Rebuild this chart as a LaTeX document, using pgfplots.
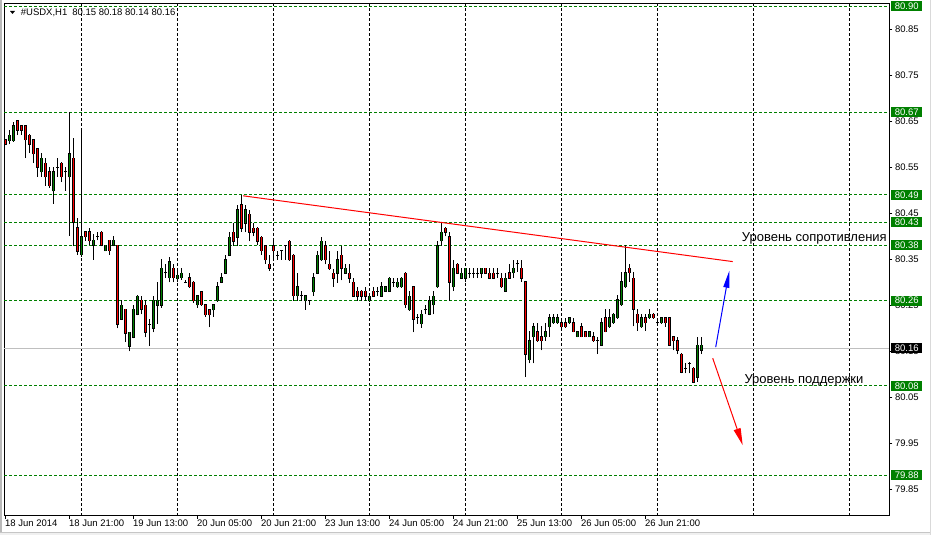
\documentclass[border=0pt]{standalone}
\usepackage{fontspec}
\setmainfont{Liberation Sans}
\usepackage{pgfplots}
\pgfplotsset{compat=1.18}
\usepackage{pgfplotstable}
\usetikzlibrary{arrows.meta}
\definecolor{mtgreen}{RGB}{0,128,0}
\definecolor{mtred}{RGB}{255,0,0}
\definecolor{mtblue}{RGB}{0,0,255}

\pgfplotstableread{
i o h l c
1 80.608 80.631 80.600 80.620
2 80.608 80.649 80.606 80.640
9 80.540 80.581 80.529 80.570
12 80.499 80.550 80.471 80.540
16 80.529 80.670 80.401 80.579
19 80.360 80.631 80.355 80.399
22 80.380 80.405 80.349 80.391
25 80.369 80.382 80.367 80.380
27 80.380 80.400 80.378 80.391
29 80.220 80.261 80.218 80.250
31 80.161 80.193 80.150 80.191
32 80.180 80.250 80.178 80.241
33 80.230 80.272 80.228 80.270
37 80.200 80.271 80.191 80.261
38 80.250 80.300 80.210 80.261
39 80.250 80.350 80.245 80.330
41 80.310 80.355 80.300 80.345
43 80.308 80.325 80.300 80.315
44 80.310 80.331 80.305 80.320
48 80.251 80.273 80.245 80.271
52 80.240 80.253 80.225 80.251
53 80.260 80.300 80.258 80.290
54 80.300 80.320 80.298 80.310
55 80.320 80.359 80.318 80.349
56 80.359 80.409 80.357 80.398
58 80.398 80.469 80.379 80.458
60 80.428 80.469 80.409 80.458
73 80.271 80.320 80.260 80.290
75 80.260 80.273 80.240 80.271
77 80.279 80.320 80.271 80.310
78 80.320 80.369 80.318 80.359
79 80.349 80.398 80.347 80.389
83 80.320 80.368 80.299 80.349
85 80.320 80.339 80.318 80.330
91 80.260 80.272 80.258 80.270
94 80.270 80.300 80.268 80.290
95 80.281 80.292 80.279 80.290
96 80.281 80.311 80.279 80.309
98 80.290 80.309 80.288 80.300
99 80.290 80.311 80.288 80.309
101 80.240 80.281 80.238 80.270
104 80.210 80.240 80.201 80.231
106 80.230 80.270 80.228 80.260
107 80.251 80.281 80.230 80.270
108 80.290 80.390 80.288 80.379
109 80.390 80.430 80.379 80.409
112 80.290 80.349 80.281 80.330
114 80.309 80.330 80.307 80.320
115 80.309 80.332 80.300 80.330
119 80.320 80.332 80.309 80.330
125 80.281 80.320 80.279 80.309
127 80.321 80.349 80.309 80.330
131 80.132 80.195 80.124 80.173
132 80.182 80.212 80.124 80.203
135 80.182 80.212 80.173 80.193
136 80.203 80.231 80.182 80.223
137 80.212 80.231 80.210 80.223
138 80.212 80.231 80.210 80.223
141 80.212 80.225 80.210 80.223
143 80.182 80.195 80.180 80.193
146 80.182 80.195 80.180 80.193
149 80.163 80.223 80.161 80.212
151 80.203 80.242 80.201 80.223
152 80.212 80.233 80.210 80.231
153 80.223 80.272 80.221 80.262
154 80.251 80.322 80.249 80.301
155 80.290 80.380 80.288 80.321
159 80.203 80.231 80.201 80.223
161 80.223 80.242 80.221 80.231
164 80.212 80.225 80.210 80.223
173 80.094 80.182 80.083 80.163
174 80.152 80.182 80.144 80.163
}\bull

\pgfplotstableread{
i o h l c
0 80.610 80.612 80.598 80.600
3 80.651 80.653 80.620 80.630
4 80.640 80.642 80.620 80.630
5 80.640 80.642 80.570 80.610
6 80.620 80.622 80.581 80.600
7 80.610 80.612 80.559 80.579
8 80.590 80.592 80.529 80.550
10 80.559 80.570 80.510 80.529
11 80.540 80.550 80.505 80.510
14 80.559 80.561 80.518 80.529
17 80.570 80.613 80.378 80.430
18 80.419 80.440 80.360 80.368
20 80.410 80.412 80.390 80.399
21 80.410 80.419 80.380 80.390
24 80.409 80.411 80.378 80.380
26 80.391 80.393 80.360 80.369
28 80.380 80.382 80.200 80.209
30 80.241 80.243 80.170 80.189
34 80.261 80.271 80.230 80.241
35 80.250 80.261 80.180 80.191
42 80.331 80.339 80.300 80.310
46 80.310 80.320 80.288 80.290
47 80.300 80.302 80.255 80.260
49 80.279 80.281 80.249 80.251
50 80.251 80.253 80.225 80.229
51 80.240 80.242 80.202 80.229
57 80.409 80.428 80.379 80.389
59 80.469 80.490 80.410 80.418
61 80.448 80.458 80.389 80.409
62 80.418 80.428 80.400 80.409
63 80.418 80.420 80.380 80.389
64 80.398 80.400 80.359 80.369
65 80.379 80.381 80.340 80.349
66 80.339 80.359 80.325 80.331
67 80.379 80.389 80.349 80.369
71 80.389 80.391 80.347 80.349
72 80.359 80.361 80.260 80.271
80 80.379 80.389 80.339 80.349
81 80.339 80.368 80.327 80.329
82 80.320 80.329 80.290 80.309
84 80.359 80.379 80.304 80.330
86 80.320 80.339 80.299 80.309
87 80.300 80.309 80.268 80.270
88 80.281 80.290 80.260 80.270
89 80.281 80.283 80.260 80.270
90 80.281 80.290 80.260 80.270
92 80.281 80.290 80.268 80.270
100 80.320 80.322 80.244 80.251
102 80.290 80.292 80.191 80.220
110 80.417 80.421 80.400 80.409
111 80.399 80.409 80.260 80.300
113 80.339 80.341 80.318 80.320
120 80.330 80.332 80.318 80.320
121 80.320 80.330 80.307 80.309
122 80.320 80.330 80.307 80.309
124 80.309 80.320 80.288 80.290
126 80.321 80.340 80.307 80.309
129 80.330 80.349 80.301 80.309
130 80.301 80.303 80.094 80.144
133 80.193 80.212 80.171 80.173
134 80.182 80.204 80.152 80.173
139 80.212 80.223 80.201 80.203
140 80.212 80.223 80.201 80.203
142 80.212 80.223 80.191 80.193
144 80.203 80.212 80.180 80.182
145 80.193 80.195 80.180 80.182
147 80.182 80.193 80.171 80.173
150 80.223 80.242 80.191 80.193
156 80.330 80.340 80.301 80.321
157 80.309 80.322 80.204 80.241
158 80.231 80.242 80.195 80.212
160 80.223 80.231 80.195 80.212
162 80.231 80.233 80.221 80.223
165 80.223 80.225 80.203 80.212
166 80.223 80.225 80.161 80.163
167 80.182 80.184 80.152 80.173
168 80.173 80.182 80.144 80.152
169 80.144 80.146 80.102 80.104
172 80.113 80.115 80.081 80.083
}\bear

\pgfplotstableread{
i o h l c
13 80.550 80.570 80.529 80.550
15 80.540 80.550 80.499 80.540
23 80.400 80.409 80.391 80.400
36 80.209 80.220 80.161 80.209
40 80.321 80.339 80.310 80.321
45 80.300 80.305 80.298 80.300
68 80.359 80.369 80.349 80.359
69 80.369 80.371 80.349 80.369
70 80.379 80.381 80.349 80.379
74 80.271 80.280 80.260 80.271
76 80.260 80.262 80.251 80.260
93 80.281 80.290 80.270 80.281
97 80.300 80.309 80.290 80.300
103 80.223 80.231 80.210 80.223
105 80.240 80.251 80.230 80.240
116 80.320 80.330 80.309 80.320
117 80.320 80.330 80.309 80.320
118 80.320 80.330 80.309 80.320
123 80.320 80.330 80.309 80.320
128 80.340 80.349 80.322 80.340
148 80.173 80.182 80.144 80.173
163 80.212 80.223 80.210 80.212
170 80.113 80.124 80.102 80.113
171 80.124 80.126 80.102 80.124
}\doji

\pgfplotsset{
  wick/.style={draw=none, mark=none, forget plot, error bars/.cd, y dir=plus, y explicit, error mark=none,
    error bar style={draw=black, line width=1bp}},
  body/.style={draw=none, mark=none, forget plot, error bars/.cd, y dir=plus, y explicit, error mark=none,
    error bar style={draw=#1, line width=3.2bp}},
  fillc/.style={draw=none, mark=none, forget plot, error bars/.cd, y dir=plus, y explicit, error mark=none,
    error bar style={draw=#1, line width=1.4bp}},
}

\begin{document}
\begin{tikzpicture}
\useasboundingbox (0,0) rectangle (931bp,535bp);
\fill[white] (0,0) rectangle (931bp,535bp);
\draw[gray!55, line width=1.5bp] (0.75bp,0) -- (0.75bp,535bp);
\fill[gray!12] (0,0) rectangle (931bp,2.5bp);
\draw[gray!45, line width=0.8bp] (0,2.5bp) -- (931bp,2.5bp);
\draw[gray!30, line width=1bp] (930.5bp,0) -- (930.5bp,535bp);
\begin{axis}[
  at={(4.3bp,19.3bp)}, anchor=south west,
  scale only axis, width=885bp, height=511.7bp,
  xmin=-0.3, xmax=220.95, ymin=79.7926, ymax=80.905,
  clip=false,
  axis line style={black, line width=1bp},
  tick style={black, line width=1bp},
  tick align=outside, major tick length=3bp,
  xtick pos=left, ytick pos=right, yticklabel pos=right,
  xtick={0,16,32,48,64,80,96,112,128,144,160},
  xticklabels={18 Jun 2014,18 Jun 21:00,19 Jun 13:00,20 Jun 05:00,20 Jun 21:00,23 Jun 13:00,24 Jun 05:00,24 Jun 21:00,25 Jun 13:00,26 Jun 05:00,26 Jun 21:00},
  extra x ticks={19,43,67,91,115,139,163,187,211},
  extra x tick labels={},
  extra x tick style={major tick length=0pt, grid=major, major grid style={black, line width=1bp, dash pattern=on 3bp off 2bp}},
  ytick={79.85,79.95,80.05,80.15,80.25,80.35,80.45,80.55,80.65,80.75,80.85},
  scaled y ticks=false,
  tick label style={font=\fontsize{9.5bp}{10bp}\selectfont, inner sep=0pt},
  xticklabel style={anchor=north west, xshift=-0.5bp, yshift=-1bp},
  yticklabel style={anchor=west, xshift=2.5bp, /pgf/number format/.cd, fixed, fixed zerofill, precision=2, assume math mode=true},
]
% levels
\pgfplotsinvokeforeach{80.90,80.67,80.49,80.43,80.38,80.26,80.075,79.88}{
  \addplot[mtgreen, line width=1bp, dash pattern=on 3bp off 2bp, forget plot] coordinates {(-0.3,#1) (220.95,#1)};
}
\addplot[gray!50, line width=1bp, forget plot] coordinates {(-0.3,80.157) (220.95,80.157)};

% wicks
\addplot[wick] table[x=i, y=l, y error expr=\thisrow{h}-\thisrow{l}] {\bull};
\addplot[wick] table[x=i, y=l, y error expr=\thisrow{h}-\thisrow{l}] {\bear};
\addplot[wick] table[x=i, y=l, y error expr=\thisrow{h}-\thisrow{l}] {\doji};
% black bodies
\addplot[body=black] table[x=i, y expr=\thisrow{o}-0.0011, y error expr=\thisrow{c}-\thisrow{o}+0.0022] {\bull};
\addplot[body=black] table[x=i, y expr=\thisrow{c}-0.0011, y error expr=\thisrow{o}-\thisrow{c}+0.0022] {\bear};
\addplot[body=black] table[x=i, y expr=\thisrow{o}-0.0011, y error expr=0.0022] {\doji};
% coloured fills
\addplot[fillc=mtgreen] table[x=i, y=o, y error expr=\thisrow{c}-\thisrow{o}] {\bull};
\addplot[fillc=mtred] table[x=i, y=c, y error expr=\thisrow{o}-\thisrow{c}] {\bear};

% trend line and arrows
\addplot[mtred, line width=1bp, forget plot] coordinates {(59.4,80.488) (181.8,80.345)};
\addplot[mtblue, line width=1bp, forget plot, -{Triangle[length=17bp,width=6bp]}] coordinates {(177.55,80.159) (180.95,80.325)};
\addplot[mtred, line width=1bp, forget plot, -{Triangle[length=17bp,width=7bp]}] coordinates {(176.8,80.135) (184.3,79.946)};

\node[anchor=base west, inner sep=0pt, font=\fontsize{13bp}{15bp}\selectfont] at (axis cs:184.05,80.3876) {Уровень сопротивления};
\node[anchor=base west, inner sep=0pt, font=\fontsize{13bp}{15bp}\selectfont] at (axis cs:184.7,80.0804) {Уровень поддержки};

% price boxes
\pgfplotsinvokeforeach{80.90,80.67,80.49,80.43,80.38,80.26,79.88}{
  \node[anchor=west, xshift=1.7bp, fill=mtgreen, text=white, inner sep=0pt, minimum width=31bp, minimum height=10bp, font=\fontsize{9.5bp}{10bp}\selectfont] at (axis cs:220.95,#1) {#1};
}
\node[anchor=west, xshift=1.7bp, fill=mtgreen, text=white, inner sep=0pt, minimum width=31bp, minimum height=10bp, font=\fontsize{9.5bp}{10bp}\selectfont] at (axis cs:220.95,80.075) {80.08};
\node[anchor=west, xshift=1.7bp, fill=black, text=white, inner sep=0pt, minimum width=31bp, minimum height=10bp, font=\fontsize{9.5bp}{10bp}\selectfont] at (axis cs:220.95,80.157) {80.16};
\end{axis}
\fill (10bp,524bp) -- (15bp,524bp) -- (12.5bp,521bp) -- cycle;
\node[anchor=base west, inner sep=0pt, font=\fontsize{9.5bp}{10bp}\selectfont] at (20.7bp,519bp) {\#USDX,H1\hspace{5bp}80.15 80.18 80.14 80.16};
\end{tikzpicture}
\end{document}
